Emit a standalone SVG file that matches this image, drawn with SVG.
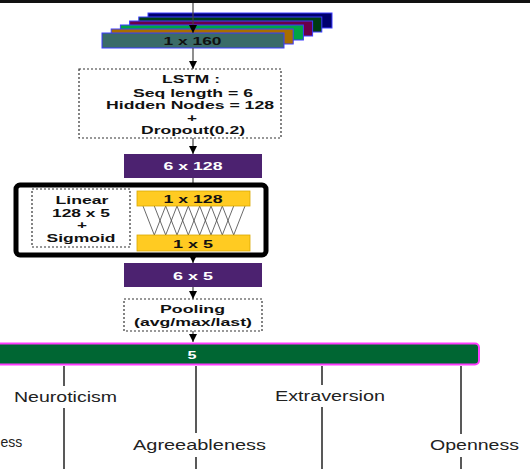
<svg xmlns="http://www.w3.org/2000/svg" width="530" height="469" viewBox="0 0 530 469">
  <defs>
    <marker id="head" markerUnits="userSpaceOnUse" markerWidth="9" markerHeight="8" refX="8" refY="4" orient="auto">
      <path d="M0,0 L8,4 L0,8 Z" fill="#000"/>
    </marker>
    <style>
      text { font-family: "Liberation Sans", Arial, sans-serif; }
      .b { font-weight: bold; font-size: 11.8px; text-anchor: middle; fill: #111; }
      .w { fill: #fff; }
      .lbl { font-size: 14px; fill: #222; }
      .stack { stroke: #3c3cff; stroke-width: 1; }
      .dash { fill: #fff; stroke: #333; stroke-width: 1.2; stroke-dasharray: 2 2; }
      .purple { fill: #4c2270; }
      .yellow { fill: #ffcb22; stroke: #d9a800; stroke-width: 0.8; }
      .conn { stroke: #444; stroke-width: 1.2; fill: none; }
      .arr { stroke: #444; stroke-width: 1.2; fill: none; marker-end: url(#head); }
      .mesh { stroke: #444; stroke-width: 0.8; }
      .trait { stroke: #222; stroke-width: 1.5; }
    </style>
  </defs>

  <rect x="0" y="0" width="530" height="3" fill="#111"/>

  <!-- input feature stack -->
  <g id="input">
    <rect class="stack" x="148" y="13" width="184" height="15" fill="#00006e"/>
    <rect class="stack" x="138.8" y="17" width="183" height="15" fill="#003c12"/>
    <rect class="stack" x="129.6" y="21" width="183" height="15" fill="#6a0048"/>
    <rect class="stack" x="120.4" y="25" width="183" height="15" fill="#00a444"/>
    <rect class="stack" x="111.2" y="29" width="182" height="15" fill="#a86e00"/>
    <rect class="stack" x="102" y="33" width="182" height="15" fill="#3a6b68"/>
  </g>

  <!-- connectors -->
  <g id="connectors">
    <line class="arr" x1="193" y1="3" x2="193" y2="33"/>
    <line class="arr" x1="193" y1="48" x2="193" y2="69"/>
    <line class="arr" x1="193" y1="138" x2="193" y2="154"/>
    <line class="conn" x1="193" y1="178" x2="193" y2="183"/>
    <line class="arr" x1="193" y1="257" x2="193" y2="263"/>
    <line class="arr" x1="193" y1="287" x2="193" y2="299"/>
    <line class="arr" x1="193" y1="331" x2="193" y2="342"/>
    <!-- trait outputs -->
    <line class="trait" x1="64" y1="366" x2="64" y2="386"/>
    <line class="trait" x1="64" y1="408" x2="64" y2="469"/>
    <line class="trait" x1="196" y1="366" x2="196" y2="433"/>
    <line class="trait" x1="196" y1="457" x2="196" y2="469"/>
    <line class="trait" x1="322" y1="366" x2="322" y2="385"/>
    <line class="trait" x1="322" y1="407" x2="322" y2="469"/>
    <line class="trait" x1="461" y1="366" x2="461" y2="434"/>
    <line class="trait" x1="461" y1="457" x2="461" y2="469"/>
  </g>

  <g id="input-label">
    <text class="b" x="192.5" y="45" textLength="58" lengthAdjust="spacingAndGlyphs">1 x 160</text>
  </g>

  <g id="lstm">
    <rect class="dash" x="79" y="69" width="202" height="69"/>
    <text class="b" x="191" y="83" textLength="58" lengthAdjust="spacingAndGlyphs">LSTM :</text>
    <text class="b" x="193" y="96.5" textLength="120" lengthAdjust="spacingAndGlyphs">Seq length = 6</text>
    <text class="b" x="190" y="109" textLength="168" lengthAdjust="spacingAndGlyphs">Hidden Nodes = 128</text>
    <text class="b" x="192" y="121.5" textLength="10" lengthAdjust="spacingAndGlyphs">+</text>
    <text class="b" x="193" y="134" textLength="104" lengthAdjust="spacingAndGlyphs">Dropout(0.2)</text>
  </g>

  <g id="lstm-out">
    <rect class="purple" x="124" y="154" width="138" height="24"/>
    <text class="b w" x="193" y="170" textLength="59" lengthAdjust="spacingAndGlyphs">6 x 128</text>
  </g>

  <g id="linear">
    <rect x="16" y="185" width="250" height="70" rx="4" fill="#fff" stroke="#000" stroke-width="5"/>
    <rect class="dash" x="32" y="189" width="98" height="58"/>
    <text class="b" x="82" y="204" textLength="53" lengthAdjust="spacingAndGlyphs">Linear</text>
    <text class="b" x="81" y="216.5" textLength="58" lengthAdjust="spacingAndGlyphs">128 x 5</text>
    <text class="b" x="82" y="229" textLength="10" lengthAdjust="spacingAndGlyphs">+</text>
    <text class="b" x="81" y="241.5" textLength="69" lengthAdjust="spacingAndGlyphs">Sigmoid</text>
    <g class="mesh">
      <line x1="143" y1="206" x2="154.3" y2="235"/>
      <line x1="154.3" y1="206" x2="165.7" y2="235"/>
      <line x1="165.7" y1="206" x2="177" y2="235"/>
      <line x1="177" y1="206" x2="188.3" y2="235"/>
      <line x1="188.3" y1="206" x2="199.7" y2="235"/>
      <line x1="199.7" y1="206" x2="211" y2="235"/>
      <line x1="211" y1="206" x2="222.3" y2="235"/>
      <line x1="222.3" y1="206" x2="233.7" y2="235"/>
      <line x1="165.7" y1="206" x2="154.3" y2="235"/>
      <line x1="177" y1="206" x2="165.7" y2="235"/>
      <line x1="188.3" y1="206" x2="177" y2="235"/>
      <line x1="199.7" y1="206" x2="188.3" y2="235"/>
      <line x1="211" y1="206" x2="199.7" y2="235"/>
      <line x1="222.3" y1="206" x2="211" y2="235"/>
      <line x1="233.7" y1="206" x2="222.3" y2="235"/>
      <line x1="245" y1="206" x2="233.7" y2="235"/>
    </g>
    <rect class="yellow" x="137" y="191" width="113" height="15"/>
    <text class="b" x="193" y="203" textLength="59" lengthAdjust="spacingAndGlyphs">1 x 128</text>
    <rect class="yellow" x="137" y="235" width="113" height="16"/>
    <text class="b" x="193" y="247.5" textLength="40" lengthAdjust="spacingAndGlyphs">1 x 5</text>
  </g>

  <g id="linear-out">
    <rect class="purple" x="124" y="263" width="138" height="24"/>
    <text class="b w" x="193" y="279.5" textLength="40" lengthAdjust="spacingAndGlyphs">6 x 5</text>
  </g>

  <g id="pooling">
    <rect class="dash" x="124" y="299" width="138" height="32"/>
    <text class="b" x="192.5" y="312.5" textLength="65" lengthAdjust="spacingAndGlyphs">Pooling</text>
    <text class="b" x="193" y="326" textLength="118" lengthAdjust="spacingAndGlyphs">(avg/max/last)</text>
  </g>

  <g id="output">
    <rect x="-6" y="343.5" width="485" height="21" rx="4" fill="#006633" stroke="#ff3cff" stroke-width="2"/>
    <text class="b w" x="192" y="358.5" textLength="9" lengthAdjust="spacingAndGlyphs">5</text>
  </g>

  <g id="traits">
    <text class="lbl" x="0.5" y="447">ess</text>
    <text class="lbl" x="14" y="402" textLength="103" lengthAdjust="spacingAndGlyphs">Neuroticism</text>
    <text class="lbl" x="133" y="450" textLength="133" lengthAdjust="spacingAndGlyphs">Agreeableness</text>
    <text class="lbl" x="275" y="401" textLength="110" lengthAdjust="spacingAndGlyphs">Extraversion</text>
    <text class="lbl" x="430" y="450" textLength="89" lengthAdjust="spacingAndGlyphs">Openness</text>
  </g>
</svg>
